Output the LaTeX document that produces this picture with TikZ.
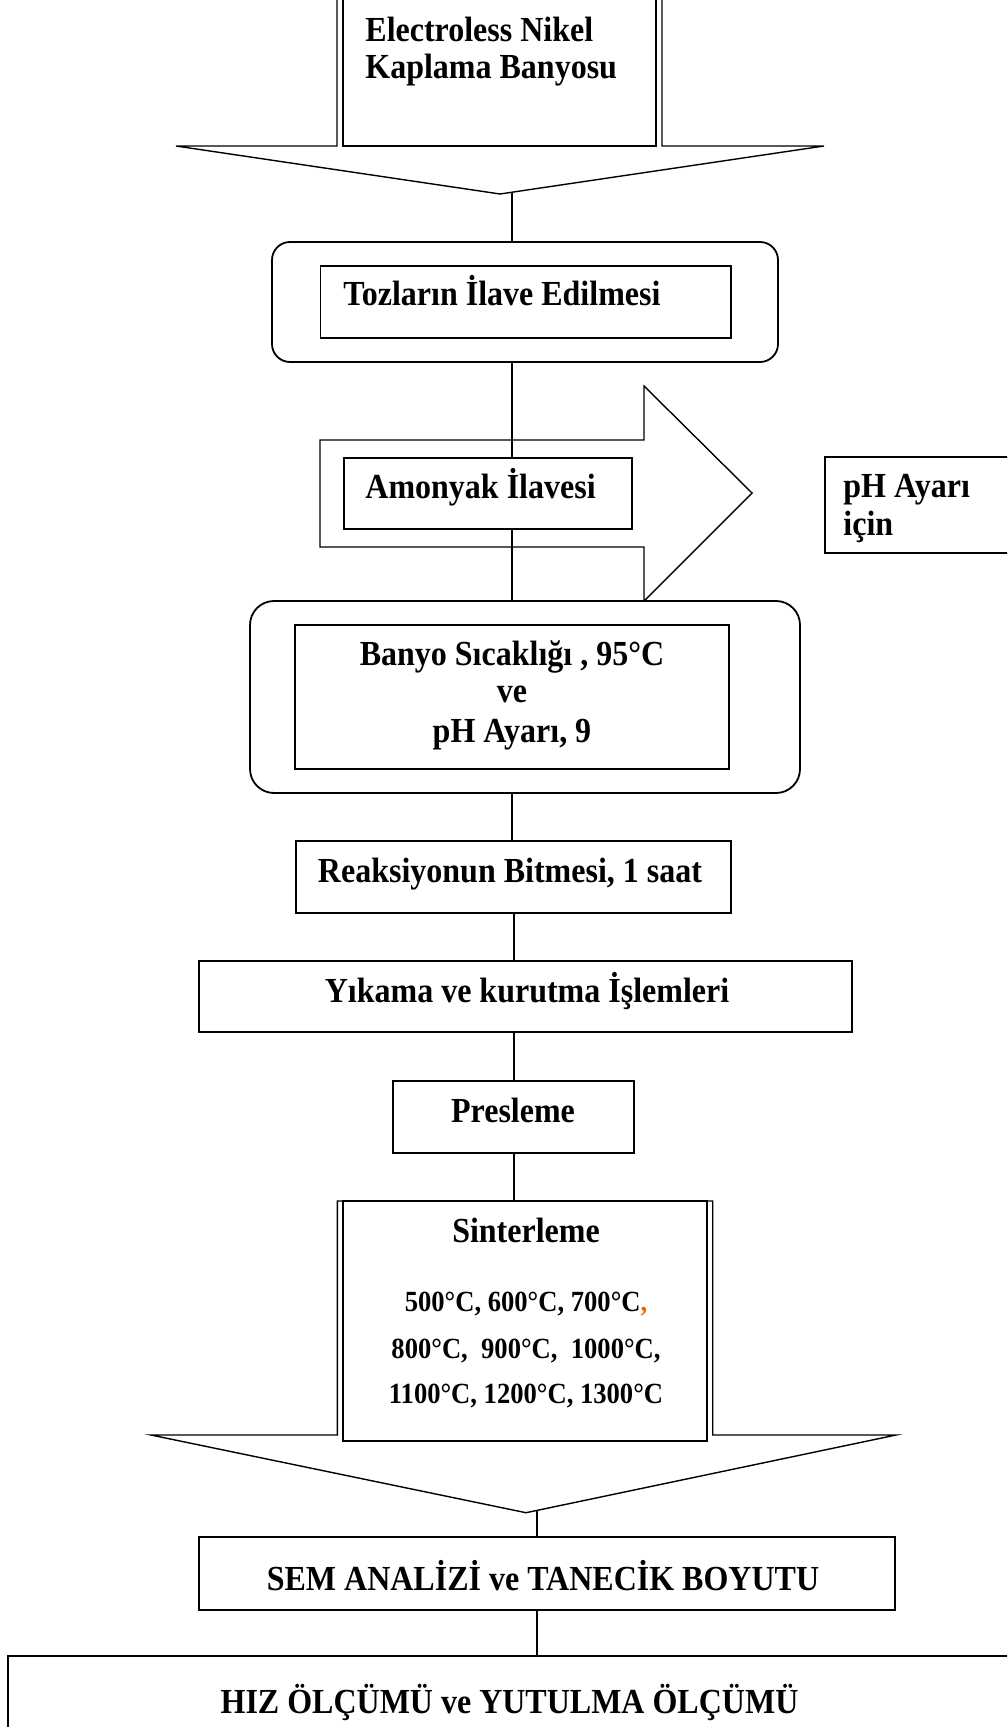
\documentclass[tikz,border=0pt]{standalone}
\usepackage{fontspec}
\usepackage{graphicx}
\setmainfont{Liberation Serif}
\usetikzlibrary{calc}
\definecolor{commaorange}{RGB}{228,108,10}
\newcommand{\tallt}[1]{\scalebox{1}[1.1]{#1}}
\begin{document}
\begin{tikzpicture}[x=0.5pt,y=-0.5pt,
  txt/.style={font=\fontsize{16}{19}\selectfont\bfseries, inner sep=0pt},
  smalltxt/.style={font=\fontsize{13.3}{23}\selectfont\bfseries, inner sep=0pt},
  box/.style={draw, line width=0.9pt, fill=white, inner sep=0pt, rectangle},
  rboxA/.style={draw, line width=0.9pt, fill=white, inner sep=0pt, rounded corners=9pt},
  rboxB/.style={draw, line width=0.9pt, fill=white, inner sep=0pt, rounded corners=12pt},
  conn/.style={line width=1.35pt},
  callout/.style={draw, line width=0.7pt, fill=white, line join=miter}
]
\useasboundingbox (0,0) rectangle (1007,1727);
\fill[white] (0,0) rectangle (1007,1727);
\clip (0,0) rectangle (1007,1727);

\coordinate (spine) at (512,0);
\coordinate (spineb) at (514,0);
\coordinate (spinec) at (537,0);

% top callout
\draw[callout] (176,146) -- (337,146) -- (337,-10) -- (662,-10) -- (662,146) -- (824,146) -- (500,194) -- cycle;
\coordinate (c1) at (512,192);
\node[box, minimum width=156.5pt, minimum height=78pt] (top1) at (499.5,68) {};
\node[txt, anchor=base west] (t1a) at (365,42) {\tallt{Electroless Nikel}};
\node[txt, anchor=base west] (t1b) at (365,79) {\tallt{Kaplama Banyosu}};

% rounded A
\node[rboxA, minimum width=253pt, minimum height=60pt] (rA) at (525,302) {};
\node[box, minimum width=205.25pt, minimum height=36pt] (iA) at (525.75,302) {};
\node[txt, anchor=base west] (tA) at (343,306) {\tallt{Tozların İlave Edilmesi}};

% right arrow
\draw[callout] (320,440) -- (644,440) -- (644,386) -- (752,493) -- (644,601) -- (644,547) -- (320,547) -- cycle;

% rounded B
\node[rboxB, minimum width=275pt, minimum height=96pt] (rB) at (525,697) {};
\node[box, minimum width=216.65pt, minimum height=72pt] (iB) at (512,697) {};
\node[txt, anchor=base] (tB1) at (512,665) {\tallt{Banyo Sıcaklığı , 95°C}};
\node[txt, anchor=base] (tB2) at (512,702) {\tallt{ve}};
\node[txt, anchor=base] (tB3) at (512,742) {\tallt{pH Ayarı, 9}};

% connectors upper
\draw[conn] (c1) -- (rA.north -| spine);
\draw[conn] (rA.south -| spine) -- (rB.north -| spine);

% Amonyak box
\node[box, minimum width=144pt, minimum height=35.5pt] (am) at (488,493.2) {};
\node[txt, anchor=base west] (tam) at (365,498) {\tallt{Amonyak İlavesi}};

% pH box
\node[box, minimum width=93.5pt, minimum height=48pt] (ph) at (918.5,505) {};
\node[txt, anchor=base west] (tph1) at (843,497) {\tallt{pH Ayarı}};
\node[txt, anchor=base west] (tph2) at (843,535) {\tallt{için}};

% Reaksiyonun
\node[box, minimum width=217.65pt, minimum height=36pt] (re) at (513.35,876.7) {};
\node[txt, anchor=base] (tre) at (510,882) {\tallt{Reaksiyonun Bitmesi, 1 saat}};

% Yikama
\node[box, minimum width=326.15pt, minimum height=35.35pt] (yk) at (525.45,996.35) {};
\node[txt, anchor=base] (tyk) at (527,1002) {\tallt{Yıkama ve kurutma İşlemleri}};

% Presleme
\node[box, minimum width=120.65pt, minimum height=36.15pt] (pr) at (513.35,1117.15) {};
\node[txt, anchor=base] (tpr) at (513,1122) {\tallt{Presleme}};

% Sinterleme callout
\draw[callout] (151,1435) -- (337.3,1435) -- (337.3,1201) -- (712.7,1201) -- (712.7,1435) -- (896,1435) -- (526,1512.7) -- cycle;
\node[box, minimum width=181.85pt, minimum height=120pt] (si) at (524.85,1321) {};
\coordinate (c3) at (537,1510.5);
\node[txt, anchor=base] (tsi) at (526,1242) {\tallt{Sinterleme}};
\node[smalltxt, anchor=base] (ts1) at (526,1311) {\tallt{500°C, 600°C, 700°C{\color{commaorange},}}};
\node[smalltxt, anchor=base] (ts2) at (526,1358) {\tallt{800°C,\ \ 900°C,\ \ 1000°C,}};
\node[smalltxt, anchor=base] (ts3) at (526,1403) {\tallt{1100°C, 1200°C, 1300°C}};

% SEM
\node[box, minimum width=348pt, minimum height=36.3pt] (sem) at (547,1573.3) {};
\node[txt, anchor=base] (tsem) at (543,1590) {\tallt{SEM ANALİZİ ve TANECİK BOYUTU}};

% HIZ
\node[box, minimum width=503.5pt, minimum height=52pt] (hiz) at (511.5,1708) {};
\node[txt, anchor=base] (thiz) at (509.5,1713) {\tallt{HIZ ÖLÇÜMÜ ve YUTULMA ÖLÇÜMÜ}};

% connectors lower
\draw[conn] (rB.south -| spine) -- (re.north -| spine);
\draw[conn] (re.south -| spineb) -- (yk.north -| spineb);
\draw[conn] (yk.south -| spineb) -- (pr.north -| spineb);
\draw[conn] (pr.south -| spineb) -- (si.north -| spineb);
\draw[conn] (c3) -- (sem.north -| spinec);
\draw[conn] (sem.south -| spinec) -- (hiz.north -| spinec);
\end{tikzpicture}
\end{document}
